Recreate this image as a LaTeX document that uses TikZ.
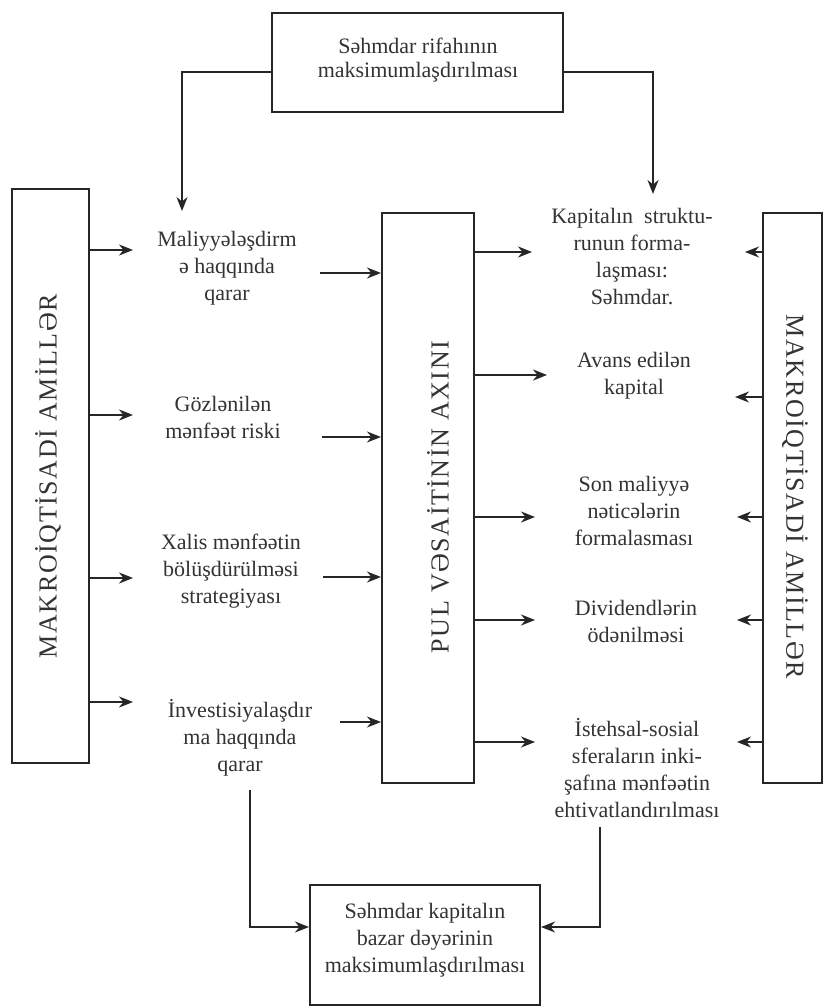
\documentclass[tikz,border=0pt]{standalone}
\usepackage{fontspec}
\setmainfont{Liberation Serif}
\newfontfamily\capsfont[LetterSpace=6]{Liberation Serif}
\usetikzlibrary{arrows.meta}
\begin{document}
\begin{tikzpicture}[x=1pt,y=-1pt,
  frame/.style={draw=black!85, line width=2.1pt, inner sep=0pt},
  arr/.style={draw=black!85, line width=1.8pt, -{Stealth[length=14pt,width=11pt]}},
  label/.style={align=center, font=\fontsize{22}{27}\selectfont, text=black!80, inner sep=0pt},
  vhead/.style={font=\capsfont\fontsize{26}{30}\selectfont, text=black!80, inner sep=0pt}
]
\useasboundingbox[fill=white] (0,0) rectangle (825,1008);

% frames
\node[frame, minimum width=291pt, minimum height=99pt] (top) at (417.5,62.5) {};
\node[frame, minimum width=77pt, minimum height=574pt] (lbox) at (50.5,476) {};
\node[frame, minimum width=92pt, minimum height=570pt] (mid) at (428,498) {};
\node[frame, minimum width=59pt, minimum height=570pt] (rbox) at (792.5,498) {};
\node[frame, minimum width=230pt, minimum height=120pt] (bot) at (425,945) {};

% frame texts
\node[label, font=\fontsize{22}{24}\selectfont] (toptext) at (418,60) {Səhmdar rifahının\\maksimumlaşdırılması};
\node[label] (bottext) at (425,940) {Səhmdar kapitalın\\bazar dəyərinin\\maksimumlaşdırılması};
\node[vhead, rotate=90] (lhead) at (48,476) {MAKROİQTİSADİ AMİLLƏR};
\node[vhead, rotate=90] (mhead) at (438,497) {PUL VƏSAİTİNİN AXINI};
\node[vhead, rotate=-90] (rhead) at (795,497) {MAKROİQTİSADİ AMİLLƏR};

% left column
\node[label] (t1) at (227,268) {Maliyyələşdirm\\ə haqqında\\qarar};
\node[label] (t2) at (223,417) {Gözlənilən\\mənfəət riski};
\node[label] (t3) at (231,571) {Xalis mənfəətin\\bölüşdürülməsi\\strategiyası};
\node[label] (t4) at (240,738) {İnvestisiyalaşdır\\ma haqqında\\qarar};

% right column
\node[label] (r1) at (632,257) {Kapitalın\ \ struktu-\\runun forma-\\laşması:\\Səhmdar.};
\node[label] (r2) at (634,376) {Avans edilən\\kapital};
\node[label] (r3) at (634,511) {Son maliyyə\\nəticələrin\\formalasması};
\node[label] (r4) at (636,621) {Dividendlərin\\ödənilməsi};
\node[label] (r5) at (637,768) {İstehsal-sosial\\sferaların inki-\\şafına mənfəətin\\ehtivatlandırılması};

% top feed
\draw[arr] (top.west |- 0,72) -| (182,211);
\draw[arr] (top.east |- 0,72) -| (653,194);

% left factors to decisions
\draw[arr] (lbox.east |- 0,250) -- (133,250);
\draw[arr] (lbox.east |- 0,415) -- (133,415);
\draw[arr] (lbox.east |- 0,578) -- (133,578);
\draw[arr] (lbox.east |- 0,702) -- (133,702);

% decisions into cash flow
\draw[arr] (320,273) -- (mid.west |- 0,273);
\draw[arr] (322,437) -- (mid.west |- 0,437);
\draw[arr] (323,577) -- (mid.west |- 0,577);
\draw[arr] (340,722) -- (mid.west |- 0,722);

% cash flow to outcomes
\draw[arr] (mid.east |- 0,252) -- (532,252);
\draw[arr] (mid.east |- 0,375) -- (547,375);
\draw[arr] (mid.east |- 0,517) -- (535,517);
\draw[arr] (mid.east |- 0,620) -- (535,620);
\draw[arr] (mid.east |- 0,742) -- (535,742);

% right factors to outcomes
\draw[arr] (rbox.west |- 0,252) -- (745,252);
\draw[arr] (rbox.west |- 0,397) -- (735,397);
\draw[arr] (rbox.west |- 0,517) -- (737,517);
\draw[arr] (rbox.west |- 0,620) -- (737,620);
\draw[arr] (rbox.west |- 0,742) -- (737,742);

% bottom feed
\draw[arr] (250,790) |- (bot.west |- 0,927);
\draw[arr] (600,827) |- (bot.east |- 0,927);
\end{tikzpicture}
\end{document}
